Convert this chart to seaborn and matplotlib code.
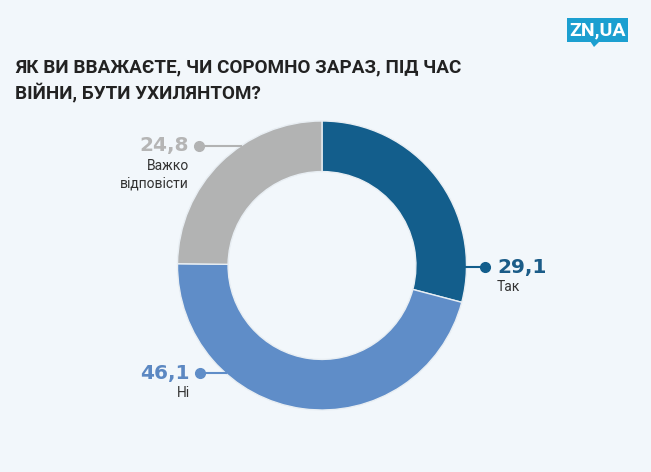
import matplotlib
matplotlib.use("Agg")
import matplotlib.pyplot as plt
import seaborn as sns
import numpy as np
from matplotlib.patches import FancyBboxPatch, Polygon

sns.set_theme(style="white")
plt.rcParams['font.family'] = ['Roboto', 'DejaVu Sans']

# Data
title = "ЯК ВИ ВВАЖАЄТЕ, ЧИ СОРОМНО ЗАРАЗ, ПІД ЧАС\nВІЙНИ, БУТИ УХИЛЯНТОМ?"
categories = ["Так", "Ні", "Важко\nвідповісти"]
values = [29.1, 46.1, 24.8]
colors = ["#135e8c", "#5f8dc8", "#b2b3b3"]
label_colors = ["#1b5c88", "#5c88c2", "#b5b5b5"]

BG = "#f2f7fb"
W, H = 651, 472
fig = plt.figure(figsize=(W / 100, H / 100), dpi=100, facecolor=BG)

cx, cy, R = 322, 265.5, 144.5
ax = fig.add_axes([(cx - R) / W, (H - cy - R) / H, 2 * R / W, 2 * R / H])
ax.set_facecolor(BG)
wedges, _ = ax.pie(values, colors=colors, startangle=90, counterclock=False,
                   radius=1.0, wedgeprops=dict(width=0.35, edgecolor="#e8eef3", linewidth=1.0))
ax.set_xlim(-1, 1)
ax.set_ylim(-1, 1)
ax.axis("off")

# label placement (positions only): dot x, line y, side
placements = [
    dict(dot_x=(485 - cx) / R, y=-(267 - cy) / R, side="right"),
    dict(dot_x=(200 - cx) / R, y=-(373 - cy) / R, side="left"),
    dict(dot_x=(199 - cx) / R, y=-(146 - cy) / R, side="left"),
]

for val, cat, col, lc, p in zip(values, categories, colors, label_colors, placements):
    y = p["y"]
    xr = np.sqrt(max(0, 1 - y * y))
    if p["side"] == "right":
        x0 = xr - 0.01
        tx = p["dot_x"] + 12 / R
        ha = "left"
    else:
        x0 = -xr + 0.01
        tx = p["dot_x"] - 10 / R
        ha = "right"
    ax.plot([x0, p["dot_x"]], [y, y], color=col, lw=1.5, clip_on=False, solid_capstyle="butt")
    ax.plot([p["dot_x"]], [y], "o", color=col, ms=7, clip_on=False)
    ax.text(tx, y, f"{val:.1f}".replace(".", ","), ha=ha, va="center",
            fontsize=14.5, fontweight="bold", color=lc, clip_on=False,
            family=["DejaVu Sans"])
    ax.text(tx, y - 13 / R, cat, ha=ha, va="top", fontsize=10,
            color="#333333", linespacing=1.35, clip_on=False)

# Title
fig.text(15 / W, 1 - 58 / H, title, ha="left", va="top", fontsize=13.6,
         fontweight="bold", color="#222222", linespacing=1.38)

# Logo
lax = fig.add_axes([0, 0, 1, 1], facecolor="none")
lax.set_xlim(0, W)
lax.set_ylim(H, 0)
lax.axis("off")
logo_col = "#1c9fd0"
lax.add_patch(FancyBboxPatch((567, 18), 61, 24, boxstyle="square,pad=0",
                             facecolor=logo_col, edgecolor="none"))
lax.add_patch(Polygon([[590, 41], [600, 41], [594, 47]], closed=True,
                      facecolor=logo_col, edgecolor="none"))
lax.text(597.5, 30.5, "ZN,UA", ha="center", va="center", color="white",
         fontsize=14, fontweight="bold", family=["Roboto", "DejaVu Sans"])

fig.savefig("out.png", dpi=100, facecolor=BG)
